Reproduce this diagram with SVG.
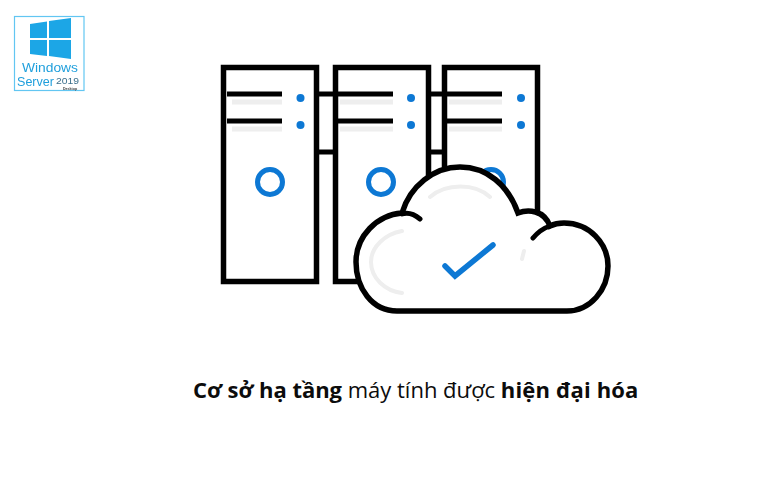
<svg xmlns="http://www.w3.org/2000/svg" width="781" height="500" viewBox="0 0 781 500">
<defs><filter id="soft" x="-5%" y="-5%" width="110%" height="110%"><feGaussianBlur stdDeviation="0.6"/></filter>
<filter id="soft2" x="-5%" y="-5%" width="110%" height="110%"><feGaussianBlur stdDeviation="0.4"/></filter></defs>
<style>
.k{fill:none;stroke:#000;stroke-width:5.500}
.bar{fill:none;stroke:#000;stroke-width:5}
.sh{fill:none;stroke:#eee;stroke-width:5}
.dot{fill:#0b78d4}
.ring{fill:none;stroke:#0b78d4;stroke-width:5}
.cap{font-family:"Open Sans","Noto Sans",sans-serif;font-size:22px;fill:#0c0c0c}
.b{font-weight:700}
.lg{font-family:"Liberation Sans",Arial,sans-serif;fill:#1f9fdc}
.fl{fill:#1aa6e6}
</style>
<rect width="781" height="500" fill="#fff"/>
<g id="logo" filter="url(#soft2)">
<rect x="14.500" y="16.500" width="69.500" height="74" fill="#fff" stroke="#62c6f2" stroke-width="1.200"/>
<polygon class="fl" points="30,24 47,21.500 47,38 30,38"/>
<polygon class="fl" points="49,21 71,18 71,38 49,38"/>
<polygon class="fl" points="30,40 47,40 47,56 30,54"/>
<polygon class="fl" points="49,40 71,40 71,59 49,56"/>
<text class="lg" x="22" y="71.500" font-size="13" textLength="56" lengthAdjust="spacingAndGlyphs">Windows</text>
<text class="lg" x="17" y="86" font-size="13" textLength="37" lengthAdjust="spacingAndGlyphs">Server</text>
<text x="56" y="84" font-size="9.500" textLength="23" lengthAdjust="spacingAndGlyphs" font-family="Liberation Sans,Arial,sans-serif" fill="#3a6f8c">2019</text>
<text x="63" y="90" font-size="3.600" font-weight="700" font-family="Liberation Sans,Arial,sans-serif" fill="#444">Desktop</text>
</g>
<g id="servers" filter="url(#soft)">
<g id="server-3">
<rect class="k" x="444.500" y="67.500" width="93" height="214"/>
<path class="sh" d="M449 102H502M449 129H502"/>
<path class="bar" d="M447 94H502M447 121H502"/>
<circle class="dot" cx="521" cy="98" r="4"/><circle class="dot" cx="521" cy="125" r="4"/>
<circle class="ring" cx="491" cy="182" r="12.500"/>
</g>
<g id="server-2">
<rect class="k" x="335.500" y="67.500" width="93" height="214"/>
<path class="sh" d="M340 102H393M340 129H393"/>
<path class="bar" d="M338 94H393M338 121H393"/>
<circle class="dot" cx="411" cy="98" r="4"/><circle class="dot" cx="411" cy="125" r="4"/>
<circle class="ring" cx="381" cy="182" r="12.500"/>
</g>
<g id="server-1">
<rect class="k" x="223.500" y="67.500" width="93" height="214"/>
<path class="sh" d="M232 102H282M232 129H282"/>
<path class="bar" d="M227 94H282M227 121H282"/>
<circle class="dot" cx="300.500" cy="98" r="4"/><circle class="dot" cx="300.500" cy="125" r="4"/>
<circle class="ring" cx="270" cy="182" r="12.500"/>
</g>
</g>
<g id="connectors" filter="url(#soft)">
<path class="bar" d="M318 94H334M318 152H334M430 94H443M430 152H443"/>
</g>
<g id="cloud" filter="url(#soft)">
<path d="M397 311C372 311 356 288 356 262C356 236 377 215 402 213C410 186 434 167 460 167C487 167 508 185 518 213C528 209 544 210 550 226C556 223 561 223 564 223C589 223 608 243 608 266C608 290 590 311 567 311Z" fill="#fff" stroke="#000" stroke-width="5.500"/>
<path class="k" style="stroke-width:5;stroke-linecap:round" d="M402 214C408 212 414 214 420 219M550 226C544 228 538 232 533 238"/>
<path class="sh" style="stroke-linecap:round;stroke-width:4" d="M402 231C385 234 371 247 371 262C371 278 385 291 402 293M430 197C446 183 475 183 490 197M524 251L522 259"/>
<path d="M445 266L455 276L493 245" fill="none" stroke="#0b78d4" stroke-width="5.500" stroke-linecap="round"/>
</g>
<text id="caption" class="cap" x="193" y="397.500"><tspan class="b" textLength="149">Cơ sở hạ tầng</tspan> máy tính được <tspan class="b" textLength="137.500">hiện đại hóa</tspan></text>
</svg>
